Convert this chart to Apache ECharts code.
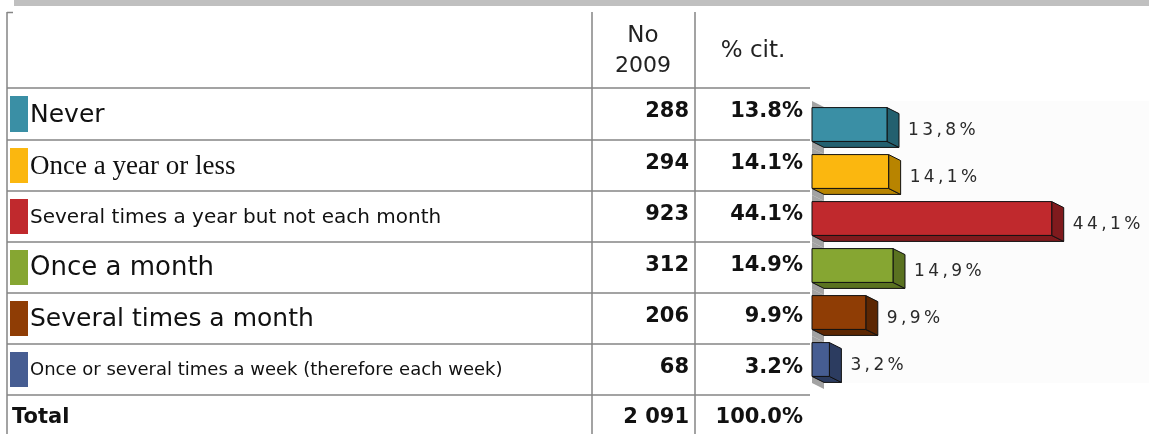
<!DOCTYPE html>
<html>
<head>
<meta charset="utf-8">
<script src="https://cdn.jsdelivr.net/npm/echarts@6/dist/echarts.min.js"></script>
<style>
  html, body { margin: 0; padding: 0; background: #fff }
  #chart { width: 1149px; height: 434px }
</style>
</head>
<body>
<div id="chart"></div>
<script>
const categories = [
  'Never',
  'Once a year or less',
  'Several times a year but not each month',
  'Once a month',
  'Several times a month',
  'Once or several times a week (therefore each week)'
]
const counts = [288, 294, 923, 312, 206, 68]
const percents = [13.8, 14.1, 44.1, 14.9, 9.9, 3.2]
const headerCount = ['No', '2009']
const headerPercent = '% cit.'
const totalLabel = 'Total'
const totalPercent = 100.0

const FRONT = ['#3a8fa5', '#fbb70f', '#c0292d', '#86a632', '#8f3d05', '#465d92']
const SIDE = ['#23606f', '#b88400', '#7f1a1d', '#5a7220', '#5c2703', '#2c3c60']
// mixed fonts as in the source table
const ROW_FONT = [
  '25px "DejaVu Sans"',
  '27px "Liberation Serif"',
  '20px "DejaVu Sans"',
  '26px "DejaVu Sans"',
  '25px "DejaVu Sans"',
  '18px "DejaVu Sans"'
]

const LINE = '#858585'
const rowTops = [88, 140, 191, 242, 293, 344, 395]
const colX = [7, 592, 695]
const tableRight = 810
const NUM_FONT = 'bold 21px "DejaVu Sans"'

const fmtCount = n => String(n).replace(/\B(?=(\d{3})+(?!\d))/g, ' ')
const fmtPct = p => p.toFixed(1) + '%'
const barLabel = p => (String(p).replace('.', ',') + '%').split('').join('\u2009')

function text(x, y, str, font, align, fill) {
  return {
    type: 'text', x, y, silent: true,
    style: { text: str, font, fill: fill || '#111', align, textAlign: align, verticalAlign: 'middle', textVerticalAlign: 'middle' }
  }
}

function line(x1, y1, x2, y2) {
  return { type: 'line', silent: true, shape: { x1, y1, x2, y2 }, style: { stroke: LINE, lineWidth: 1.5 } }
}

const graphics = []
graphics.push({ type: 'rect', shape: { x: 14, y: 0, width: 1135, height: 6 }, style: { fill: '#c0c0c0' } })
// table grid
colX.forEach(x => graphics.push(line(x, 12, x, 434)))
graphics.push(line(7, 12.5, 13, 12.5))
rowTops.forEach(y => graphics.push(line(7, y, tableRight, y)))
// header
graphics.push(text(643, 36, headerCount[0], '23px "DejaVu Sans"', 'center', '#222'))
graphics.push(text(643, 66, headerCount[1], '22px "DejaVu Sans"', 'center', '#222'))
graphics.push(text(753, 51, headerPercent, '23px "DejaVu Sans"', 'center', '#222'))
// rows
categories.forEach((c, i) => {
  const top = rowTops[i]
  const h = rowTops[i + 1] - top
  graphics.push({ type: 'rect', shape: { x: 10, y: top + 8, width: 18, height: h - 16 }, style: { fill: FRONT[i] } })
  graphics.push(text(30, top + h / 2 + 1, c, ROW_FONT[i], 'left'))
  graphics.push(text(689, top + 24, fmtCount(counts[i]), NUM_FONT, 'right'))
  graphics.push(text(803, top + 24, fmtPct(percents[i]), NUM_FONT, 'right'))
})
const totalCount = counts.reduce((a, b) => a + b, 0)
graphics.push(text(12, 418, totalLabel, 'bold 21px "DejaVu Sans"', 'left'))
graphics.push(text(689, 418, fmtCount(totalCount), NUM_FONT, 'right'))
graphics.push(text(803, 418, fmtPct(totalPercent), NUM_FONT, 'right'))

function renderBar(params, api) {
  const value = api.value(0)
  const idx = api.value(1)
  const base = api.coord([0, idx])
  const tip = api.coord([value, idx])
  const band = api.size([0, 1])[1]
  const h = band * 0.72
  const dx = 12, dy = 6
  const x0 = base[0], x1 = tip[0], cy = base[1]
  const yT = cy - h / 2, yB = cy + h / 2
  return {
    type: 'group',
    children: [
      { // grey wall behind the bars
        type: 'polygon',
        shape: { points: [[x0, cy - band / 2], [x0 + dx, cy - band / 2 + dy], [x0 + dx, cy + band / 2 + dy], [x0, cy + band / 2]] },
        style: { fill: '#a3a3a3' }
      },
      {
        type: 'polygon',
        shape: { points: [[x0, yB], [x1, yB], [x1 + dx, yB + dy], [x0 + dx, yB + dy]] },
        style: { fill: SIDE[idx], stroke: '#111', lineWidth: 1 }
      },
      {
        type: 'polygon',
        shape: { points: [[x1, yT], [x1 + dx, yT + dy], [x1 + dx, yB + dy], [x1, yB]] },
        style: { fill: SIDE[idx], stroke: '#111', lineWidth: 1 }
      },
      {
        type: 'rect',
        shape: { x: x0, y: yT, width: x1 - x0, height: h },
        style: { fill: FRONT[idx], stroke: '#111', lineWidth: 1 }
      },
      {
        type: 'text',
        x: x1 + dx + 9,
        y: cy + dy,
        style: { text: barLabel(value), font: '17px "DejaVu Sans"', fill: '#2a2a2a', align: 'left', verticalAlign: 'middle' }
      }
    ]
  }
}

const chart = echarts.init(document.getElementById('chart'))
chart.setOption({
  animation: false,
  backgroundColor: '#fff',
  grid: {
    left: 812, top: 101, width: 337, height: 282,
    show: true, backgroundColor: '#fcfcfc', borderWidth: 0
  },
  xAxis: { type: 'value', min: 0, max: 62, show: false },
  yAxis: { type: 'category', data: categories, inverse: true, show: false },
  graphic: graphics,
  series: [{
    type: 'custom',
    renderItem: renderBar,
    encode: { x: 0, y: 1 },
    data: percents.map((p, i) => [p, i])
  }]
})
</script>
</body>
</html>
